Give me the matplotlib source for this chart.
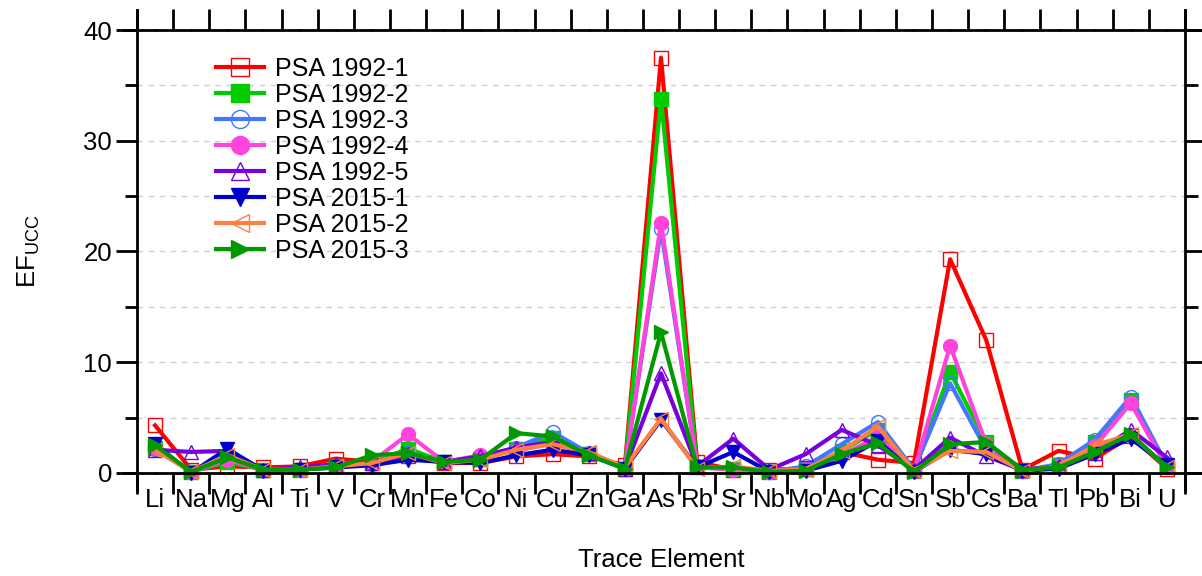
import numpy as np
import matplotlib.pyplot as plt

plt.rcParams['font.family'] = ['Liberation Sans', 'DejaVu Sans']

# trace elements on the x axis
elements = ['Li', 'Na', 'Mg', 'Al', 'Ti', 'V', 'Cr', 'Mn', 'Fe', 'Co', 'Ni', 'Cu', 'Zn', 'Ga', 'As',
            'Rb', 'Sr', 'Nb', 'Mo', 'Ag', 'Cd', 'Sn', 'Sb', 'Cs', 'Ba', 'Tl', 'Pb', 'Bi', 'U']

# enrichment factors per sample
psa_1992_1 = [4.3, 0.3, 0.6, 0.5, 0.6, 1.3, 1.0, 1.5, 0.9, 0.9, 1.5, 1.7, 1.5, 0.7, 37.5,
              1.0, 0.3, 0.3, 0.4, 1.9, 1.2, 0.9, 19.3, 12.0, 0.3, 2.0, 1.3, 3.3, 0.4]
psa_1992_2 = [2.3, 0.1, 1.0, 0.3, 0.3, 0.6, 0.9, 2.2, 1.0, 1.3, 2.2, 3.2, 1.7, 0.4, 33.8,
              0.5, 0.4, 0.1, 0.4, 2.0, 3.9, 0.2, 9.1, 2.8, 0.2, 0.7, 2.8, 6.6, 0.6]
psa_1992_3 = [2.2, 0.1, 1.5, 0.3, 0.3, 0.6, 0.8, 1.8, 1.0, 1.4, 2.3, 3.7, 1.8, 0.4, 22.0,
              0.6, 0.4, 0.1, 0.6, 2.6, 4.6, 0.3, 8.1, 2.1, 0.2, 0.8, 3.0, 6.9, 0.7]
psa_1992_4 = [2.3, 0.1, 1.2, 0.3, 0.3, 0.6, 1.0, 3.5, 1.0, 1.6, 2.0, 2.7, 1.7, 0.4, 22.6,
              0.5, 0.3, 0.1, 0.4, 1.6, 3.3, 0.2, 11.5, 2.6, 0.2, 0.6, 2.4, 6.3, 0.5]
psa_1992_5 = [2.1, 1.9, 2.0, 0.3, 0.5, 0.8, 0.9, 1.7, 1.0, 1.5, 2.3, 2.8, 1.8, 0.4, 9.0,
              0.6, 3.1, 0.3, 1.7, 3.9, 2.5, 0.3, 3.2, 1.5, 0.3, 0.6, 1.8, 3.9, 1.4]
psa_2015_1 = [2.6, 0.0, 2.2, 0.2, 0.3, 0.5, 0.7, 1.2, 1.0, 0.9, 1.6, 2.1, 1.6, 0.4, 4.8,
              0.5, 1.9, 0.1, 0.2, 1.1, 2.9, 0.1, 2.1, 1.7, 0.2, 0.4, 1.7, 3.1, 0.7]
psa_2015_2 = [2.1, 0.1, 1.6, 0.3, 0.3, 0.6, 0.9, 1.8, 0.9, 1.2, 2.1, 2.6, 1.9, 0.5, 4.9,
              0.4, 0.6, 0.2, 0.3, 2.0, 4.2, 0.2, 2.0, 1.9, 0.2, 0.6, 2.5, 3.5, 0.5]
psa_2015_3 = [2.5, 0.1, 1.4, 0.3, 0.3, 0.5, 1.6, 1.8, 1.0, 1.2, 3.6, 3.3, 1.6, 0.4, 12.7,
              0.5, 0.5, 0.1, 0.2, 1.7, 2.7, 0.1, 2.6, 2.8, 0.3, 0.5, 1.9, 3.5, 0.5]

labels = ['PSA 1992-1', 'PSA 1992-2', 'PSA 1992-3', 'PSA 1992-4', 'PSA 1992-5',
          'PSA 2015-1', 'PSA 2015-2', 'PSA 2015-3']
series = [psa_1992_1, psa_1992_2, psa_1992_3, psa_1992_4, psa_1992_5,
          psa_2015_1, psa_2015_2, psa_2015_3]

# styles: colour, marker, filled?
colors = ['#ff0000', '#00cc00', '#4477ff', '#ff44dd', '#7700dd', '#0000cc', '#ff8040', '#009900']
markers = ['s', 's', 'o', 'o', '^', 'v', '<', '>']
filled = [False, True, False, True, False, True, False, True]

fig = plt.figure(figsize=(12.02, 5.76), dpi=100)
ax = fig.add_axes([137/1202, 1 - 473/576, (1185-137)/1202, (473-30)/576])

x = np.arange(len(elements))
for vals, lab, c, m, f in zip(series, labels, colors, markers, filled):
    ax.plot(x, vals, color=c, lw=3, marker=m, ms=10,
            markerfacecolor=c if f else 'none', markeredgecolor=c, markeredgewidth=1,
            label=lab, clip_on=False)

ax.set_xlim(-0.5, len(elements) - 0.5)
ax.set_ylim(0, 40)

# major ticks between categories, labels on minor ticks
ax.set_xticks(np.arange(-0.5, len(elements)), labels=[])
ax.set_xticks(x, labels=elements, minor=True)
ax.set_yticks([0, 10, 20, 30, 40])
ax.set_yticks([5, 15, 25, 35], minor=True)

ax.tick_params(axis='both', which='both', direction='out', top=True, right=True, width=2, color='black')
ax.tick_params(axis='x', which='major', length=15)
ax.tick_params(axis='x', which='minor', length=2, direction='inout', labelsize=18.5, pad=10)
ax.tick_params(axis='y', which='major', length=15, labelsize=18.5, pad=3)
ax.tick_params(axis='y', which='minor', length=9)

for s in ax.spines.values():
    s.set_linewidth(2)
ax.spines['left'].set_bounds(-1.5, 41.8)
ax.spines['right'].set_bounds(-1.5, 41.8)
ax.spines['bottom'].set_bounds(-0.85, 29)
ax.spines['top'].set_bounds(-0.85, 29)

ax.grid(axis='y', which='both', color='#d0d0d0', linestyle=(0, (4, 4)), lw=1)
ax.set_axisbelow(True)

ax.set_xlabel('Trace Element', fontsize=18.5, labelpad=26)
ax.set_ylabel('EF$_\\mathregular{UCC}$', fontsize=18.5, labelpad=30)

ax.legend(loc='upper left', bbox_to_anchor=(0.066, 0.962), frameon=False, fontsize=18,
          labelspacing=0.08, handlelength=1.9, handletextpad=0.45, borderaxespad=0,
          markerscale=1.3)

plt.savefig('out.png', dpi=100)
